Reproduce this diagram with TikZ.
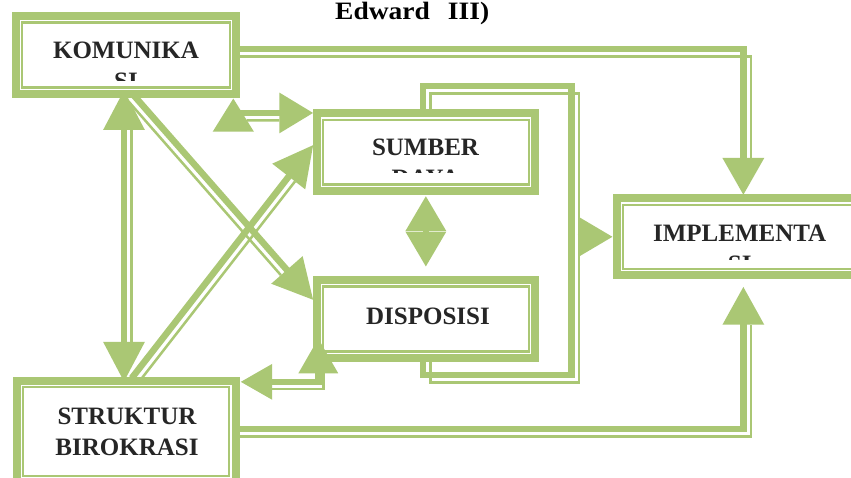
\documentclass[tikz,border=0pt]{standalone}
\usepackage{fontspec}
\setmainfont{Liberation Serif}
\usetikzlibrary{arrows.meta,calc}
\definecolor{kg}{RGB}{170,199,116}
\definecolor{kt}{RGB}{38,38,38}
\begin{document}
\begin{tikzpicture}[x=1pt,y=-1pt,
  boxst/.style={draw=kg, line width=8pt, fill=white, inner sep=0pt, outer sep=4pt},
  innerln/.style={draw=kg, line width=2.2pt},
  thk/.style={draw=kg, line width=6.5pt},
  thn/.style={draw=kg, line width=2.5pt},
  lbl/.style={font=\fontsize{25}{30.5}\selectfont\bfseries, text=kt, align=center, inner sep=0pt, anchor=north}
]
\useasboundingbox (0,0) rectangle (851,478);
\clip (0,0) rectangle (851,478);
\fill[white] (0,0) rectangle (851,478);

% title fragment
\node[font=\fontsize{25}{30}\selectfont\bfseries\addfontfeature{FakeStretch=1.1}, anchor=base west, inner sep=0pt] (ttl) at (335,19.5) {Edward\hspace{18pt}III)};

% boxes
\node[boxst, minimum width=220pt, minimum height=78pt] (komu) at (126,55) {};
\node[boxst, minimum width=218.3pt, minimum height=77.7pt] (sumber) at (425.85,152.15) {};
\node[boxst, minimum width=218.3pt, minimum height=78pt] (disp) at (425.85,319) {};
\node[boxst, minimum width=246.3pt, minimum height=77pt] (impl) at (739.85,236.8) {};
\node[boxst, minimum width=219pt, minimum height=102pt] (struk) at (126,431.85) {};
\foreach \n in {komu,sumber,disp,impl,struk}
  \draw[innerln] ([shift={(10.3,10.5)}]\n.north west) rectangle ([shift={(-10.3,-10.5)}]\n.south east);

% labels (clipped like the text boxes)
\begin{scope}
  \clip (24,24) rectangle (228,80.5);
  \node[lbl] (komuT) at (126,42) {KOMUNIKA\\SI};
\end{scope}
\begin{scope}
  \clip (324,122) rectangle (528,173);
  \node[lbl] (sumberT) at (425.5,139) {SUMBER\\DAYA};
\end{scope}
\begin{scope}
  \clip (624,207) rectangle (851,260);
  \node[lbl] (implT) at (739.7,225) {IMPLEMENTA\\SI};
\end{scope}
\node[lbl] (dispT) at (428,308) {DISPOSISI};
\node[lbl] (strukT) at (127,408) {STRUKTUR\\BIROKRASI};

% A: komunikasi -> implementasi
\draw[thk, -{Triangle[length=37pt,width=40pt]}] ([shift={(0,-6.2)}]komu.east) -| ([shift={(3.5,0.7)}]impl.north);
\draw[thn] ([shift={(0,1.5)}]komu.east) -| ([shift={(11,-36.3)}]impl.north);

% B: sumber daya / disposisi bracket -> implementasi
\draw[thk] ([shift={(-3,0)}]sumber.north) |- (571.5,86) |- ([shift={(-3,13)}]disp.south) -- ([shift={(-3,0)}]disp.south);
\draw[thn] ([shift={(4.5,0)}]sumber.north) |- (579,93.5) |- ([shift={(4.5,20.5)}]disp.south) -- ([shift={(4.5,0)}]disp.south);
\draw[thk, -{Triangle[length=34pt,width=38pt]}] ([shift={(-35,0)}]impl.west) -- (impl.west);

% C: struktur -> implementasi
\draw[thk, -{Triangle[length=38pt,width=40pt]}] ([shift={(0,-2.9)}]struk.east) -| ([shift={(3.5,7.4)}]impl.south);
\draw[thn] ([shift={(0,4.6)}]struk.east) -| ([shift={(11,45.7)}]impl.south);

% D: komunikasi <-> struktur
\draw[thk, {Triangle[length=40pt,width=40pt]}-{Triangle[length=40pt,width=40pt]}] ([shift={(-2,-8)}]komu.south) -- ([shift={(-2,5)}]struk.north);
\draw[thn] ([shift={(5.5,32)}]komu.south) -- ([shift={(5.5,-33.5)}]struk.north);

% E: komunikasi -> disposisi
\draw[thk, -{Triangle[length=40pt,width=40pt]}] ([shift={(5.7,-5)}]komu.south) -- ([shift={(0.6,-19)}]disp.west);
\draw[thn] ([shift={(3,4)}]komu.south) -- ([shift={(-31.8,-43.8)}]disp.west);

% F: struktur -> sumber daya
\draw[thk, -{Triangle[length=40pt,width=40pt]}] ([shift={(5.7,1.3)}]struk.north) -- ([shift={(0.6,-7.2)}]sumber.west);
\draw[thn] ([shift={(15.1,2.3)}]struk.north) -- ([shift={(-17.7,29.3)}]sumber.west);

% G: komunikasi <-> sumber daya
\draw[thk, {Triangle[length=33.4pt,width=39.4pt]}-{Triangle[length=34pt,width=39pt]}] ([shift={(-6.7,0.3)}]komu.south east) |- ([shift={(0.6,-39.2)}]sumber.west);
\draw[thn] ([shift={(6.7,22.5)}]komu.south east) -- ([shift={(-33.4,-31.7)}]sumber.west);

% H: disposisi <-> struktur
\draw[thk, {Triangle[length=31.7pt,width=34pt]}-{Triangle[length=35pt,width=38pt]}] ([shift={(1,5)}]struk.north east) -| ([shift={(5.6,-23.7)}]disp.south west);
\draw[thn] ([shift={(32.7,12.3)}]struk.north east) -| ([shift={(10.6,11.3)}]disp.south west);

% I: sumber daya <-> disposisi
\draw[thk, {Triangle[length=35pt,width=39pt]}-{Triangle[length=35pt,width=39pt]}] ([shift={(0,1)}]sumber.south) -- ([shift={(0,-9.3)}]disp.north);
\end{tikzpicture}
\end{document}
